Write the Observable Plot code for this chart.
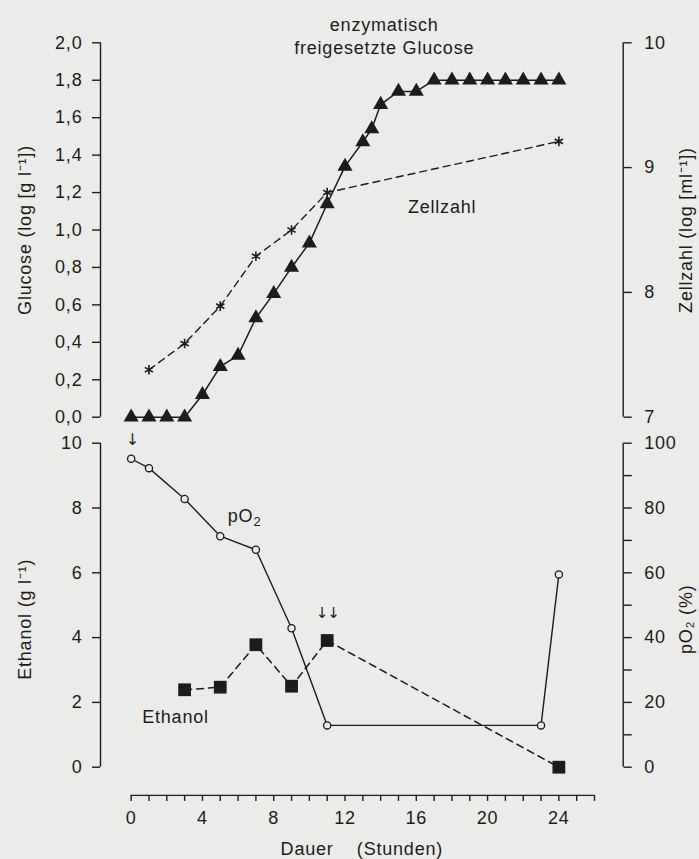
<!DOCTYPE html>
<html>
<head>
<meta charset="utf-8">
<script src="https://cdn.jsdelivr.net/npm/d3@7"></script>
<script src="https://cdn.jsdelivr.net/npm/@observablehq/plot@0.6"></script>
<style>
  html, body { margin: 0; padding: 0; background: #ebebea; }
  #chart { width: 699px; height: 859px; position: relative; overflow: hidden; }
  #chart svg { display: block; }
  #chart text { letter-spacing: 0.8px; }
  #chart text.arrows { letter-spacing: -1px; }
</style>
</head>
<body>
<div id="chart"></div>
<script>
// ---- data ----
const glucoseHours = [0,1,2,3,4,5,6,7,8,9,10,11,12,13,13.5,14,15,16,17,18,19,20,21,22,23,24];
const glucoseValues = [0,0,0,0,0.12,0.27,0.33,0.53,0.66,0.80,0.93,1.14,1.34,1.47,1.54,1.67,1.74,1.74,1.8,1.8,1.8,1.8,1.8,1.8,1.8,1.8];
const cellHours = [1,3,5,7,9,11,24];
const cellValues = [7.38,7.59,7.89,8.29,8.50,8.80,9.21];
const pO2Hours = [0,1,3,5,7,9,11,23,24];
const pO2Values = [95.2,92.3,82.8,71.3,67.1,42.9,12.9,12.9,59.5];
const ethanolHours = [3,5,7,9,11,24];
const ethanolValues = [2.39,2.47,3.78,2.5,3.91,0];
const glucoseTicks = [0,0.2,0.4,0.6,0.8,1.0,1.2,1.4,1.6,1.8,2.0];
const cellTicks = [7,8,9,10];
const ethanolTicks = [0,2,4,6,8,10];
const pO2Ticks = [0,10,20,30,40,50,60,70,80,90,100];
const hourTicks = d3.range(0, 27);

const ink = "#1c1c1c";
const bg = "#ebebea";
const font = "'Liberation Sans', Arial, sans-serif";
const X0 = -1.72, X1 = 27.61;

const glucose = glucoseHours.map((h, i) => ({h, v: glucoseValues[i]}));
const cells = cellHours.map((h, i) => ({h, v: cellValues[i]}));
const pO2 = pO2Hours.map((h, i) => ({h, v: pO2Values[i]}));
const ethanol = ethanolHours.map((h, i) => ({h, v: ethanolValues[i]}));

const toG = z => (z - 7) / 3 * 2;   // Zellzahl -> Glucose axis units
const toE = p => p / 10;            // pO2 -> Ethanol axis units
const comma = d => d.toFixed(1).replace(".", ",");

const style = {background: "transparent", overflow: "visible", fontFamily: font, fontSize: "18px", color: ink};
const arrowFont = "'DejaVu Sans', 'Liberation Sans', sans-serif";
const down = "\u2193\uFE0E";

const topPanel = Plot.plot({
  width: 699, height: 420,
  marginTop: 42.3, marginBottom: 3.3, marginLeft: 100, marginRight: 76.3,
  style,
  x: {domain: [X0, X1], axis: null},
  y: {domain: [0, 2], axis: null},
  marks: [
    Plot.ruleX([X0], {y1: 0, y2: 2, stroke: ink, strokeWidth: 1.4}),
    Plot.ruleX([X1], {y1: 0, y2: 2, stroke: ink, strokeWidth: 1.4}),
    Plot.axisY({anchor: "left", ticks: glucoseTicks, tickFormat: comma, tickSize: 8, tickPadding: 10,
      strokeWidth: 1.4, label: "Glucose (log [g l⁻¹])", labelAnchor: "center", labelOffset: 82, labelArrow: false}),
    Plot.axisY({anchor: "right", ticks: cellTicks.map(toG), tickFormat: d => String(Math.round(d * 1.5 + 7)),
      tickSize: 8, tickPadding: 13, strokeWidth: 1.4,
      label: "Zellzahl (log [ml⁻¹])", labelAnchor: "center", labelOffset: 69, labelArrow: false}),
    Plot.line(cells, {x: "h", y: d => toG(d.v), stroke: ink, strokeWidth: 1.4, strokeDasharray: "7,5"}),
    Plot.dot(cells, {x: "h", y: d => toG(d.v), symbol: "asterisk", r: 4.5, stroke: ink, strokeWidth: 1.6}),
    Plot.line(glucose, {x: "h", y: "v", stroke: ink, strokeWidth: 1.5}),
    Plot.dot(glucose, {x: "h", y: "v", symbol: "triangle", r: 5.6, fill: ink, stroke: null}),
    Plot.text(["enzymatisch\nfreigesetzte Glucose"], {x: 14.2, y: 2.043, text: d => d, fill: ink, lineHeight: 1.3, fontSize: 18}),
    Plot.text(["Zellzahl"], {x: 17.45, y: 1.122, text: d => d, fill: ink, fontSize: 18})
  ]
});

const bottomPanel = Plot.plot({
  width: 699, height: 439,
  marginTop: 22.7, marginBottom: 64.1, marginLeft: 100, marginRight: 76.3,
  style,
  x: {domain: [X0, X1], axis: null},
  y: {domain: [-0.87, 10], axis: null},
  marks: [
    Plot.ruleX([X0], {y1: 0, y2: 10, stroke: ink, strokeWidth: 1.4}),
    Plot.ruleX([X1], {y1: 0, y2: 10, stroke: ink, strokeWidth: 1.4}),
    Plot.axisY({anchor: "left", ticks: ethanolTicks, tickSize: 8, tickPadding: 10, strokeWidth: 1.4,
      label: "Ethanol (g l⁻¹)", labelAnchor: "center", labelOffset: 82, labelArrow: false}),
    Plot.axisY({anchor: "right", ticks: pO2Ticks.map(toE), tickFormat: d => (Math.round(d * 10) % 20 === 0 ? String(Math.round(d * 10)) : ""),
      tickSize: 8, tickPadding: 13, strokeWidth: 1.4,
      label: "pO₂ (%)", labelAnchor: "center", labelOffset: 69, labelArrow: false}),
    Plot.ruleY([-0.87], {x1: 0, x2: 26, stroke: ink, strokeWidth: 1.4}),
    Plot.axisX({anchor: "bottom", ticks: hourTicks, tickFormat: d => (d % 4 === 0 && d <= 24 ? String(d) : ""),
      tickSize: 6, tickPadding: 10, strokeWidth: 1.4,
      label: "Dauer    (Stunden)", labelAnchor: "center", labelOffset: 60, labelArrow: false}),
    Plot.line(ethanol, {x: "h", y: "v", stroke: ink, strokeWidth: 1.5, strokeDasharray: "7,5"}),
    Plot.dot(ethanol, {x: "h", y: "v", symbol: "square", r: 7.2, fill: ink, stroke: null}),
    Plot.line(pO2, {x: "h", y: d => toE(d.v), stroke: ink, strokeWidth: 1.4}),
    Plot.dot(pO2, {x: "h", y: d => toE(d.v), symbol: "circle", r: 3.6, fill: bg, stroke: ink, strokeWidth: 1.3}),
    Plot.text([down], {x: 0.1, y: 10.1, text: d => d, fill: ink, fontSize: 16, fontFamily: arrowFont}),
    Plot.text([down + down], {x: 11, y: 4.74, text: d => d, fill: ink, fontSize: 15, fontFamily: arrowFont, className: "arrows"}),
    Plot.text(["pO"], {x: 6.86, y: 7.75, text: d => d, fill: ink, fontSize: 18, textAnchor: "end"}),
    Plot.text(["2"], {x: 6.86, y: 7.75, text: d => d, fill: ink, fontSize: 13, textAnchor: "start", dy: 6}),
    Plot.text(["Ethanol"], {x: 2.49, y: 1.54, text: d => d, fill: ink, fontSize: 18})
  ]
});

const chart = document.getElementById("chart");
chart.appendChild(topPanel);
chart.appendChild(bottomPanel);
// tighten the double arrow (letter spacing on its text element)
bottomPanel.querySelectorAll("g.arrows text, text.arrows").forEach(t => t.style.letterSpacing = "-1px");
</script>
</body>
</html>
